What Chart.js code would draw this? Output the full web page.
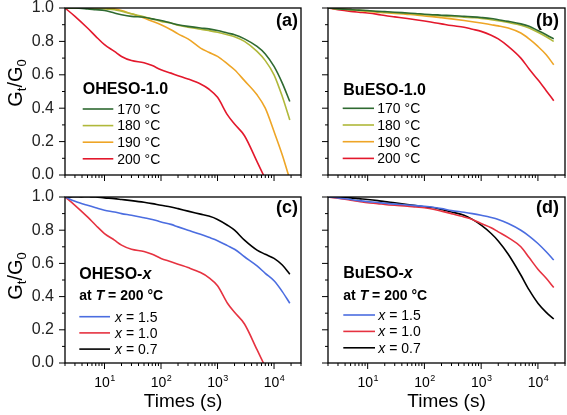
<!DOCTYPE html>
<html>
<head>
<meta charset="utf-8">
<script src="https://cdn.jsdelivr.net/npm/chart.js@4/dist/chart.umd.min.js"></script>
<style>
    html, body { margin: 0; padding: 0; background: #fff; }
    #wrap { position: relative; width: 567px; height: 415px; }
    #wrap canvas { position: absolute; left: 0; top: 0; }
</style>
</head>
<body>
<div id="wrap">
    <canvas id="chartA" width="567" height="415"></canvas>
    <canvas id="chartB" width="567" height="415"></canvas>
    <canvas id="chartC" width="567" height="415"></canvas>
    <canvas id="chartD" width="567" height="415"></canvas>
</div>
<script>
/* stress relaxation panels - Gt/G0 vs time (log) */

// 1. DATA
const times = [2, 3, 5, 7, 10, 15, 20, 30, 50, 70, 100, 150, 200, 300, 500, 700, 1000, 1500, 2000, 3000, 5000, 7000, 10000, 14000, 19000];
const times190a = [2, 3, 5, 7, 10, 15, 20, 30, 50, 70, 100, 150, 200, 300, 500, 700, 1000, 1500, 2000, 3000, 5000, 7000, 10000, 14000, 18000];
const times200a = [2, 3, 5, 7, 10, 15, 20, 30, 50, 70, 100, 150, 200, 300, 500, 700, 1000, 1500, 2000, 3000, 5000, 6500];

// (a) OHESO-1.0
const oheso170 = [1.0, 1.0, 0.995, 0.99, 0.985, 0.97, 0.96, 0.95, 0.945, 0.935, 0.925, 0.91, 0.90, 0.89, 0.88, 0.875, 0.865, 0.85, 0.84, 0.815, 0.77, 0.725, 0.65, 0.55, 0.44];
const oheso180 = [1.0, 1.0, 1.0, 1.0, 0.995, 0.99, 0.98, 0.965, 0.948, 0.935, 0.92, 0.91, 0.897, 0.885, 0.873, 0.865, 0.855, 0.84, 0.828, 0.80, 0.74, 0.685, 0.60, 0.47, 0.33];
const oheso190 = [1.0, 1.0, 1.0, 1.0, 1.0, 0.995, 0.985, 0.965, 0.94, 0.92, 0.90, 0.87, 0.845, 0.815, 0.76, 0.735, 0.71, 0.665, 0.63, 0.565, 0.48, 0.40, 0.26, 0.12, 0.0];
const oheso200 = [1.0, 0.95, 0.88, 0.83, 0.78, 0.74, 0.71, 0.685, 0.672, 0.655, 0.63, 0.61, 0.595, 0.575, 0.545, 0.515, 0.465, 0.36, 0.305, 0.235, 0.08, 0.0];

// (b) BuESO-1.0
const bueso170 = [1.0, 0.995, 0.99, 0.987, 0.985, 0.98, 0.978, 0.975, 0.97, 0.967, 0.963, 0.96, 0.957, 0.955, 0.95, 0.947, 0.943, 0.937, 0.93, 0.92, 0.905, 0.89, 0.865, 0.84, 0.815];
const bueso180 = [1.0, 0.995, 0.99, 0.986, 0.983, 0.978, 0.975, 0.972, 0.967, 0.963, 0.96, 0.956, 0.953, 0.95, 0.945, 0.942, 0.938, 0.93, 0.924, 0.913, 0.897, 0.88, 0.855, 0.828, 0.80];
const bueso190 = [1.0, 0.995, 0.99, 0.985, 0.98, 0.975, 0.972, 0.968, 0.962, 0.958, 0.952, 0.947, 0.942, 0.935, 0.925, 0.918, 0.91, 0.90, 0.893, 0.88, 0.85, 0.815, 0.77, 0.72, 0.66];
const bueso200 = [1.0, 0.99, 0.98, 0.975, 0.97, 0.962, 0.955, 0.947, 0.937, 0.93, 0.922, 0.912, 0.905, 0.895, 0.885, 0.873, 0.86, 0.837, 0.815, 0.77, 0.70, 0.635, 0.57, 0.505, 0.445];

// (c) OHESO-x at 200 C  (x = 1.0 is the same run as 200 C in (a))
const ohesoX15 = [1.0, 0.975, 0.95, 0.935, 0.92, 0.91, 0.90, 0.89, 0.875, 0.865, 0.85, 0.835, 0.82, 0.80, 0.775, 0.757, 0.737, 0.707, 0.685, 0.64, 0.585, 0.54, 0.495, 0.43, 0.36];
const ohesoX07 = [1.0, 1.003, 1.003, 1.0, 0.995, 0.99, 0.985, 0.978, 0.968, 0.96, 0.95, 0.94, 0.93, 0.915, 0.897, 0.885, 0.865, 0.83, 0.80, 0.74, 0.68, 0.655, 0.63, 0.59, 0.535];

// (d) BuESO-x at 200 C
const buesoX15 = [1.0, 0.995, 0.985, 0.978, 0.972, 0.967, 0.962, 0.957, 0.952, 0.948, 0.944, 0.937, 0.93, 0.918, 0.908, 0.90, 0.89, 0.877, 0.865, 0.84, 0.80, 0.765, 0.72, 0.67, 0.62];
const buesoX10 = [1.0, 0.993, 0.98, 0.973, 0.965, 0.96, 0.955, 0.95, 0.945, 0.94, 0.935, 0.925, 0.915, 0.90, 0.88, 0.865, 0.84, 0.815, 0.79, 0.755, 0.70, 0.635, 0.565, 0.51, 0.455];
const buesoX07 = [1.0, 1.0, 0.995, 0.99, 0.985, 0.978, 0.972, 0.965, 0.955, 0.948, 0.94, 0.935, 0.925, 0.91, 0.89, 0.865, 0.83, 0.78, 0.735, 0.655, 0.53, 0.44, 0.36, 0.305, 0.265];

const tempLabels = ['170 °C', '180 °C', '190 °C', '200 °C'];
const xLabels = ['_x_ = 1.5', '_x_ = 1.0', '_x_ = 0.7'];
const yTicks = [0, 0.2, 0.4, 0.6, 0.8, 1.0];
const xDecades = [1, 2, 3, 4];

const FONT = "'Liberation Sans', Arial, sans-serif";
const C170 = '#2f6a31', C180 = '#b0b83a', C190 = '#eea526', C200 = '#e3182c';
const CBLUE = '#4b6de0', CRED = '#e63240', CBLACK = '#000000';

function pts(xs, ys) {
    return ys.map((v, i) => ({ x: xs[i], y: v }));
}

// italic parts are wrapped in _..._
function drawRich(ctx, text, x, y, size, weight) {
    let cx = x;
    text.split('_').forEach((p, i) => {
        if (!p) return;
        ctx.font = (i % 2 ? 'italic ' : '') + weight + ' ' + size + 'px ' + FONT;
        ctx.fillText(p, cx, y);
        cx += ctx.measureText(p).width;
    });
}

function hline(ctx, x0, y0, x1, y1) {
    ctx.beginPath(); ctx.moveTo(x0, y0); ctx.lineTo(x1, y1); ctx.stroke();
}

// 2. FRAME, TICKS, LABELS, LEGEND
const panelDeco = {
    id: 'panelDeco',
    afterDraw(chart, args, o) {
        const ctx = chart.ctx, a = chart.chartArea;
        const xs = chart.scales.x, ys = chart.scales.y;
        ctx.save();
        ctx.strokeStyle = '#000';
        ctx.fillStyle = '#000';

        // frame
        ctx.lineWidth = 1.3;
        ctx.strokeRect(a.left, a.top, a.right - a.left, a.bottom - a.top);

        // tick marks (outward)
        ctx.lineWidth = 1;
        for (let i = 0; i <= 10; i++) {
            const py = ys.getPixelForValue(i / 10);
            hline(ctx, a.left - (i % 2 ? 3 : 6), py, a.left, py);
        }
        xDecades.concat([0]).forEach(k => {
            for (let m = 1; m <= 9; m++) {
                const v = m * Math.pow(10, k);
                if (v < xs.min || v > xs.max) continue;
                const px = xs.getPixelForValue(v);
                hline(ctx, px, a.bottom, px, a.bottom + (m === 1 ? 6 : 3));
            }
        });

        // x tick labels 10^n and axis title
        if (o.xTitle) {
            ctx.textBaseline = 'alphabetic';
            ctx.textAlign = 'left';
            xDecades.forEach(k => {
                const px = xs.getPixelForValue(Math.pow(10, k));
                ctx.font = '14px ' + FONT;
                const wb = ctx.measureText('10').width;
                ctx.font = '9px ' + FONT;
                const ws = ctx.measureText(String(k)).width;
                const x0 = px - (wb + ws) / 2;
                ctx.font = '14px ' + FONT;
                ctx.fillText('10', x0, a.bottom + 24);
                ctx.font = '9px ' + FONT;
                ctx.fillText(String(k), x0 + wb + 0.5, a.bottom + 17.5);
            });
            ctx.font = '19px ' + FONT;
            ctx.textAlign = 'center';
            ctx.fillText('Times (s)', (a.left + a.right) / 2, a.bottom + 44);
        }

        // y axis title Gt/G0
        if (o.yTitle) {
            ctx.save();
            ctx.translate(21.5, o.yTitleY);
            ctx.rotate(-Math.PI / 2);
            ctx.textAlign = 'left';
            const parts = [['G', 20, 0], ['t', 13, 4], ['/', 20, 0], ['G', 20, 0], ['0', 13, 4]];
            let w = 0;
            parts.forEach(p => { ctx.font = p[1] + 'px ' + FONT; w += ctx.measureText(p[0]).width; });
            let cx = -w / 2;
            parts.forEach(p => {
                ctx.font = p[1] + 'px ' + FONT;
                ctx.fillText(p[0], cx, p[2]);
                cx += ctx.measureText(p[0]).width;
            });
            ctx.restore();
        }

        // panel tag
        ctx.font = 'bold 18px ' + FONT;
        ctx.textAlign = 'right';
        ctx.fillText(o.tag, a.right - o.tagRight, a.top + o.tagBase);

        // legend
        const L = o.legend;
        ctx.textAlign = 'left';
        drawRich(ctx, L.title, L.x, L.titleY, 16, 'bold');
        if (L.sub) drawRich(ctx, L.sub, L.x, L.subY, 14, 'bold');
        chart.data.datasets.forEach((ds, i) => {
            const y = L.rowY + i * L.rowStep;
            ctx.strokeStyle = ds.borderColor;
            ctx.lineWidth = 1.6;
            hline(ctx, L.lx0, y, L.lx1, y);
            ctx.fillStyle = '#000';
            drawRich(ctx, ds.label, L.tx, y + 4.8, 14, 'normal');
        });
        ctx.restore();
    }
};

// 3. BUILD ONE PANEL
function makePanel(id, datasets, pad, deco, showYLabels) {
    const ctx = document.getElementById(id).getContext('2d');
    return new Chart(ctx, {
        type: 'line',
        data: {
            datasets: datasets.map(d => ({
                label: d.label,
                data: d.data,
                borderColor: d.color,
                borderWidth: 1.6,
                pointRadius: 0,
                fill: false,
                cubicInterpolationMode: 'monotone'
            }))
        },
        options: {
            responsive: false,
            animation: false,
            devicePixelRatio: 1,
            layout: { padding: pad },
            plugins: {
                legend: { display: false },
                tooltip: { enabled: false },
                panelDeco: deco
            },
            scales: {
                x: {
                    type: 'logarithmic',
                    min: 2,
                    max: 30000,
                    ticks: { display: false },
                    grid: { display: false, drawTicks: false },
                    border: { display: false },
                    afterFit: s => { s.height = 10; s.paddingLeft = 0; s.paddingRight = 0; }
                },
                y: {
                    min: 0,
                    max: 1.0,
                    afterBuildTicks: s => { s.ticks = yTicks.map(v => ({ value: v })); },
                    ticks: {
                        display: showYLabels,
                        padding: 11,
                        color: '#222',
                        font: { family: FONT, size: 16 },
                        callback: v => v.toFixed(1)
                    },
                    grid: { display: false, drawTicks: false },
                    border: { display: false },
                    afterFit: s => { s.width = 35; s.paddingTop = 0; s.paddingBottom = 0; }
                }
            }
        },
        plugins: [panelDeco]
    });
}

// 4. DRAW
makePanel('chartA', [
    { label: tempLabels[0], data: pts(times, oheso170), color: C170 },
    { label: tempLabels[1], data: pts(times, oheso180), color: C180 },
    { label: tempLabels[2], data: pts(times190a, oheso190), color: C190 },
    { label: tempLabels[3], data: pts(times200a, oheso200), color: C200 }
], { left: 30, right: 266, top: 8, bottom: 230 }, {
    tag: '(a)', tagRight: 3, tagBase: 18, yTitle: true, yTitleY: 83, xTitle: false,
    legend: { title: 'OHESO-1.0', x: 82.7, titleY: 94, lx0: 82.7, lx1: 113.3, tx: 117.3, rowY: 109, rowStep: 16.6 }
}, true);

makePanel('chartB', [
    { label: tempLabels[0], data: pts(times, bueso170), color: C170 },
    { label: tempLabels[1], data: pts(times, bueso180), color: C180 },
    { label: tempLabels[2], data: pts(times, bueso190), color: C190 },
    { label: tempLabels[3], data: pts(times, bueso200), color: C200 }
], { left: 293, right: 2, top: 8, bottom: 230 }, {
    tag: '(b)', tagRight: 6, tagBase: 18, yTitle: false, xTitle: false,
    legend: { title: 'BuESO-1.0', x: 343.3, titleY: 94.5, lx0: 342.7, lx1: 374, tx: 377.3, rowY: 108.3, rowStep: 16.7 }
}, false);

makePanel('chartC', [
    { label: xLabels[0], data: pts(times, ohesoX15), color: CBLUE },
    { label: xLabels[1], data: pts(times200a, oheso200), color: CRED },
    { label: xLabels[2], data: pts(times, ohesoX07), color: CBLACK }
], { left: 30, right: 266, top: 197, bottom: 42 }, {
    tag: '(c)', tagRight: 3, tagBase: 16, yTitle: true, yTitleY: 276, xTitle: true,
    legend: { title: 'OHESO-_x_', sub: 'at _T_ = 200 °C', x: 79.3, titleY: 279, subY: 300, lx0: 79.3, lx1: 110, tx: 115, rowY: 316.7, rowStep: 16.2 }
}, true);

makePanel('chartD', [
    { label: xLabels[0], data: pts(times, buesoX15), color: CBLUE },
    { label: xLabels[1], data: pts(times, buesoX10), color: CRED },
    { label: xLabels[2], data: pts(times, buesoX07), color: CBLACK }
], { left: 293, right: 2, top: 197, bottom: 42 }, {
    tag: '(d)', tagRight: 6, tagBase: 16, yTitle: false, xTitle: true,
    legend: { title: 'BuESO-_x_', sub: 'at _T_ = 200 °C', x: 343.3, titleY: 277.5, subY: 300, lx0: 343.3, lx1: 375, tx: 378.3, rowY: 315, rowStep: 16.4 }
}, false);
</script>
</body>
</html>
